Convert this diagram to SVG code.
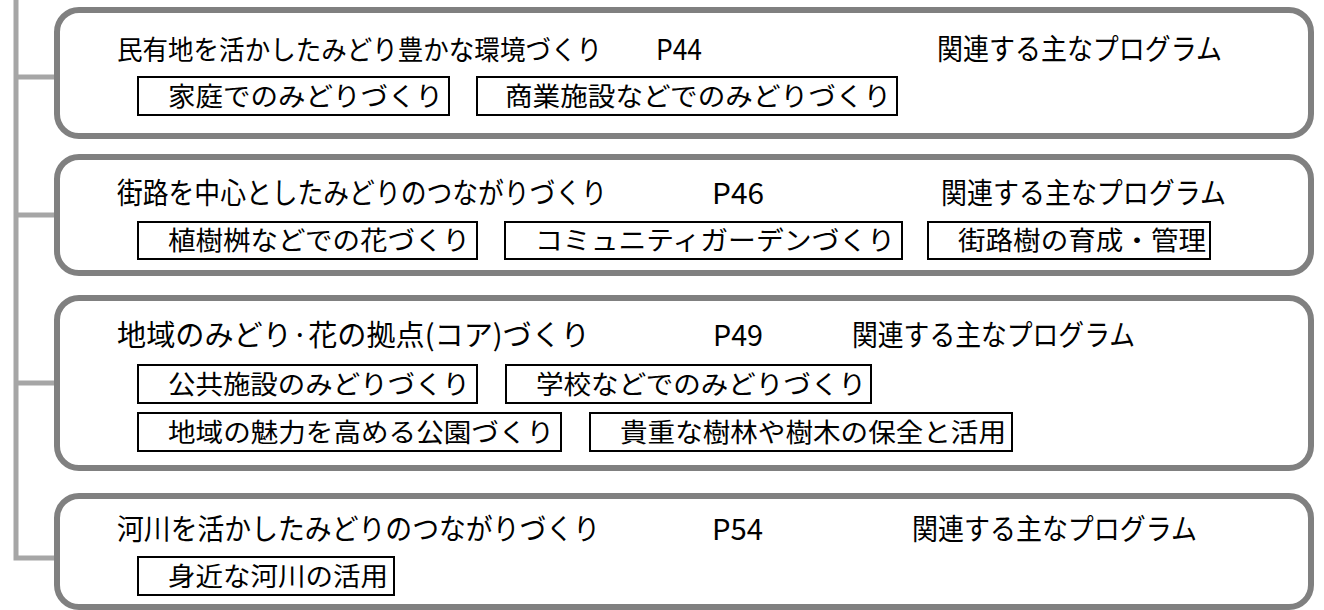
<svg xmlns="http://www.w3.org/2000/svg" width="1324" height="610" viewBox="0 0 1324 610">
<style>
.frame{fill:#fff;stroke:#808080;stroke-width:6}
.conn{fill:none;stroke:#a6a6a6;stroke-width:5}
.box{fill:#fff;stroke:#000;stroke-width:2}
text{font-family:"Noto Sans CJK JP","Noto Sans",sans-serif;fill:#000}
.t{font-size:29px}
.b{font-size:26px}
</style>
<rect width="1324" height="610" fill="#fff"/>
<g id="connectors">
<path class="conn" d="M16,0 V558 H56"/>
<path class="conn" d="M16,77 H56"/>
<path class="conn" d="M16,215 H56"/>
<path class="conn" d="M16,383 H56"/>
</g>
<g id="node1">
<rect class="frame" x="57" y="10" width="1254" height="126" rx="22"/>
<text class="t" x="117" y="60" style="font-size:27px" textLength="485" lengthAdjust="spacingAndGlyphs">民有地を活かしたみどり豊かな環境づくり</text>
<text class="t" x="656" y="60" textLength="46" lengthAdjust="spacingAndGlyphs">P44</text>
<text class="t" x="937" y="60" textLength="285" lengthAdjust="spacingAndGlyphs">関連する主なプログラム</text>
<rect class="box" x="138" y="77" width="311" height="38"/>
<text class="b" x="168" y="106" textLength="275" lengthAdjust="spacingAndGlyphs">家庭でのみどりづくり</text>
<rect class="box" x="477" y="77" width="420" height="38"/>
<text class="b" x="505" y="106" textLength="386" lengthAdjust="spacingAndGlyphs">商業施設などでのみどりづくり</text>
</g>
<g id="node2">
<rect class="frame" x="57" y="157" width="1254" height="116" rx="22"/>
<text class="t" x="117" y="204" textLength="490" lengthAdjust="spacingAndGlyphs">街路を中心としたみどりのつながりづくり</text>
<text class="t" x="712" y="204" textLength="52" lengthAdjust="spacingAndGlyphs">P46</text>
<text class="t" x="941" y="204" textLength="285" lengthAdjust="spacingAndGlyphs">関連する主なプログラム</text>
<rect class="box" x="138" y="222" width="339" height="37"/>
<text class="b" x="168" y="250" textLength="302" lengthAdjust="spacingAndGlyphs">植樹桝などでの花づくり</text>
<rect class="box" x="505" y="222" width="397" height="37"/>
<text class="b" x="535" y="250" textLength="360" lengthAdjust="spacingAndGlyphs">コミュニティガーデンづくり</text>
<rect class="box" x="928" y="222" width="282" height="37"/>
<text class="b" x="958" y="250" textLength="248" lengthAdjust="spacingAndGlyphs">街路樹の育成・管理</text>
</g>
<g id="node3">
<rect class="frame" x="57" y="298" width="1254" height="170" rx="22"/>
<text class="t" x="117" y="346" textLength="473" lengthAdjust="spacingAndGlyphs">地域のみどり·花の拠点(コア)づくり</text>
<text class="t" x="713" y="346" textLength="50" lengthAdjust="spacingAndGlyphs">P49</text>
<text class="t" x="852" y="346" textLength="283" lengthAdjust="spacingAndGlyphs">関連する主なプログラム</text>
<rect class="box" x="138" y="365" width="339" height="38"/>
<text class="b" x="168" y="394" textLength="302" lengthAdjust="spacingAndGlyphs">公共施設のみどりづくり</text>
<rect class="box" x="506" y="365" width="365" height="38"/>
<text class="b" x="536" y="394" textLength="330" lengthAdjust="spacingAndGlyphs">学校などでのみどりづくり</text>
<rect class="box" x="138" y="413" width="423" height="38"/>
<text class="b" x="168" y="442" textLength="386" lengthAdjust="spacingAndGlyphs">地域の魅力を高める公園づくり</text>
<rect class="box" x="590" y="413" width="422" height="38"/>
<text class="b" x="620" y="442" textLength="386" lengthAdjust="spacingAndGlyphs">貴重な樹林や樹木の保全と活用</text>
</g>
<g id="node4">
<rect class="frame" x="57" y="496" width="1254" height="111" rx="22"/>
<text class="t" x="117" y="540" textLength="483" lengthAdjust="spacingAndGlyphs">河川を活かしたみどりのつながりづくり</text>
<text class="t" x="712" y="540" textLength="51" lengthAdjust="spacingAndGlyphs">P54</text>
<text class="t" x="912" y="540" textLength="285" lengthAdjust="spacingAndGlyphs">関連する主なプログラム</text>
<rect class="box" x="138" y="557" width="256" height="38"/>
<text class="b" x="168" y="586" textLength="220" lengthAdjust="spacingAndGlyphs">身近な河川の活用</text>
</g>
</svg>
